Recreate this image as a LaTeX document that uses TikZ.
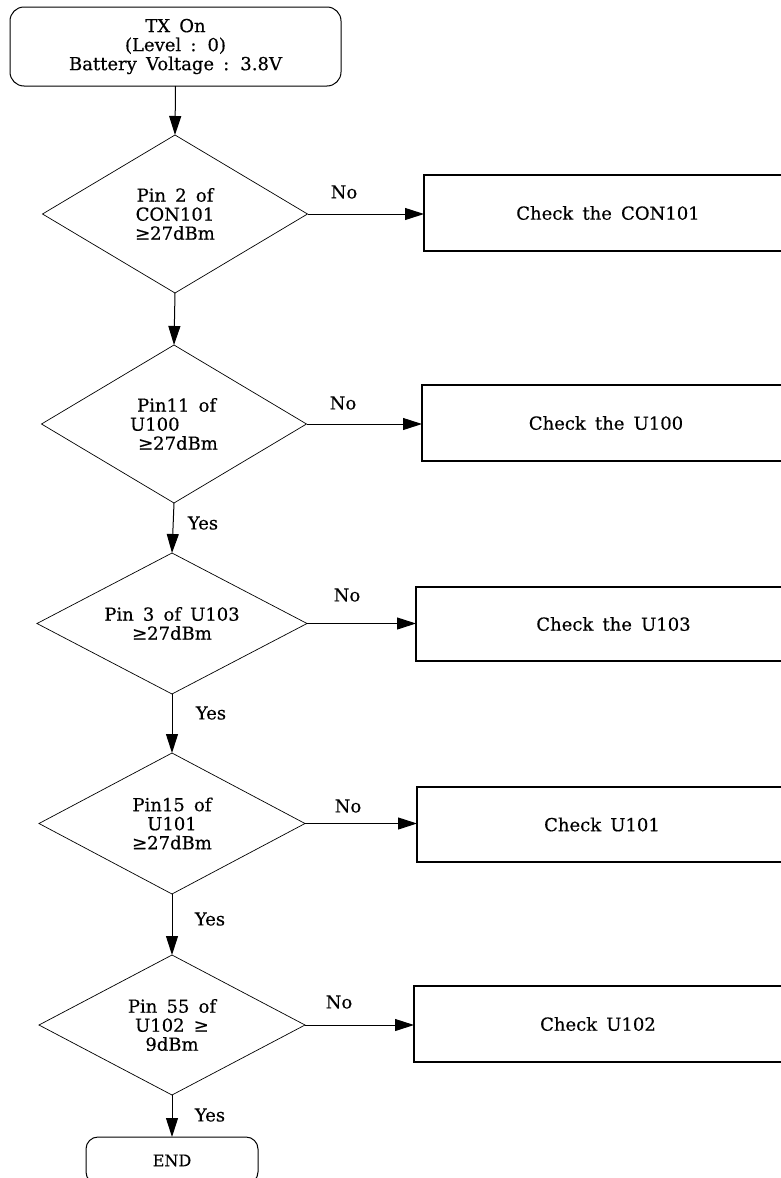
\documentclass[tikz,border=0pt]{standalone}
\usepackage{fontspec}
\setmainfont{DejaVu Serif}[WordSpace=1.6,FakeBold=0.4]
\usetikzlibrary{shapes.geometric,arrows.meta}
\begin{document}
\begin{tikzpicture}[x=1pt,y=-1pt,
  every node/.style={font=\fontsize{18}{19}\selectfont},
  dec/.style={draw, shape=diamond, aspect=1.8, inner sep=0pt, outer sep=0pt, line width=0.7pt, align=center},
  chk/.style={draw, rectangle, line width=1.3pt, inner sep=0pt, outer sep=0pt},
  term/.style={draw, rectangle, rounded corners=14pt, line width=1pt, align=center, inner sep=0pt, outer sep=0pt},
  arr/.style={-{Triangle[length=19pt,width=12pt]}, line width=1pt},
  lbl/.style={inner sep=0pt}]
\useasboundingbox (0,0) rectangle (781,1178);
\clip (0,0) rectangle (781,1178);

% start / end
\node[term, minimum width=331pt, minimum height=79pt] (start) at (175.5,46.5)
  {TX On\\(Level : 0)\\Battery Voltage : 3.8V};
\node[term, rounded corners=12pt, minimum width=172pt, minimum height=47pt, font=\fontsize{16}{18}\selectfont] (fin) at (172,1160.5) {END};

% decisions
\node[dec, minimum width=265pt, minimum height=158pt] (d1) at (175,214) {Pin 2 of\\CON101\\≥27dBm};
\node[dec, minimum width=265pt, minimum height=158pt, align=left] (d2) at (174,424)
  {\hspace{7pt}Pin11 of\\U100\\\hspace{8pt}≥27dBm};
\node[dec, minimum width=270pt, minimum height=141pt] (d3) at (172,623.5) {Pin 3 of U103\\≥27dBm};
\node[dec, minimum width=266pt, minimum height=141pt] (d4) at (172,823.5) {Pin15 of\\U101\\≥27dBm};
\node[dec, minimum width=266pt, minimum height=140pt] (d5) at (172,1025) {Pin 55 of\\U102 ≥\\9dBm};

% check boxes
\node[chk, minimum width=368pt, minimum height=76pt] (b1) at (608,213) {Check the CON101};
\node[chk, minimum width=368pt, minimum height=76pt] (b2) at (606,423) {Check the U100};
\node[chk, minimum width=395pt, minimum height=74pt] (b3) at (613.5,624) {Check the U103};
\node[chk, minimum width=370pt, minimum height=75pt] (b4) at (602,824.5) {Check U101};
\node[chk, minimum width=368pt, minimum height=76pt] (b5) at (598,1024) {Check U102};

% vertical flow
\draw[arr] (start.south) -- (d1.north);
\draw[arr] (d1.south) -- (d2.north);
\draw[arr] (d2.south) -- (d3.north);
\draw[arr] (d3.south) -- (d4.north);
\draw[arr] (d4.south) -- (d5.north);
\draw[arr] (d5.south) -- (fin.north);

% No branches
\draw[arr] (d1.east) -- (d1.east -| b1.west);
\draw[arr] (d2.east) -- (d2.east -| b2.west);
\draw[arr] (d3.east) -- (d3.east -| b3.west);
\draw[arr] (d4.east) -- (d4.east -| b4.west);
\draw[arr] (d5.east) -- (d5.east -| b5.west);

% labels
\node[lbl] (no1) at (344,192) {No};
\node[lbl] (no2) at (343,403) {No};
\node[lbl] (no3) at (347,595) {No};
\node[lbl] (no4) at (348,806) {No};
\node[lbl] (no5) at (339,1002) {No};
\node[lbl] (yes2) at (203,523) {Yes};
\node[lbl] (yes3) at (211,713) {Yes};
\node[lbl] (yes4) at (210,919) {Yes};
\node[lbl] (yes5) at (210,1115) {Yes};
\end{tikzpicture}
\end{document}
